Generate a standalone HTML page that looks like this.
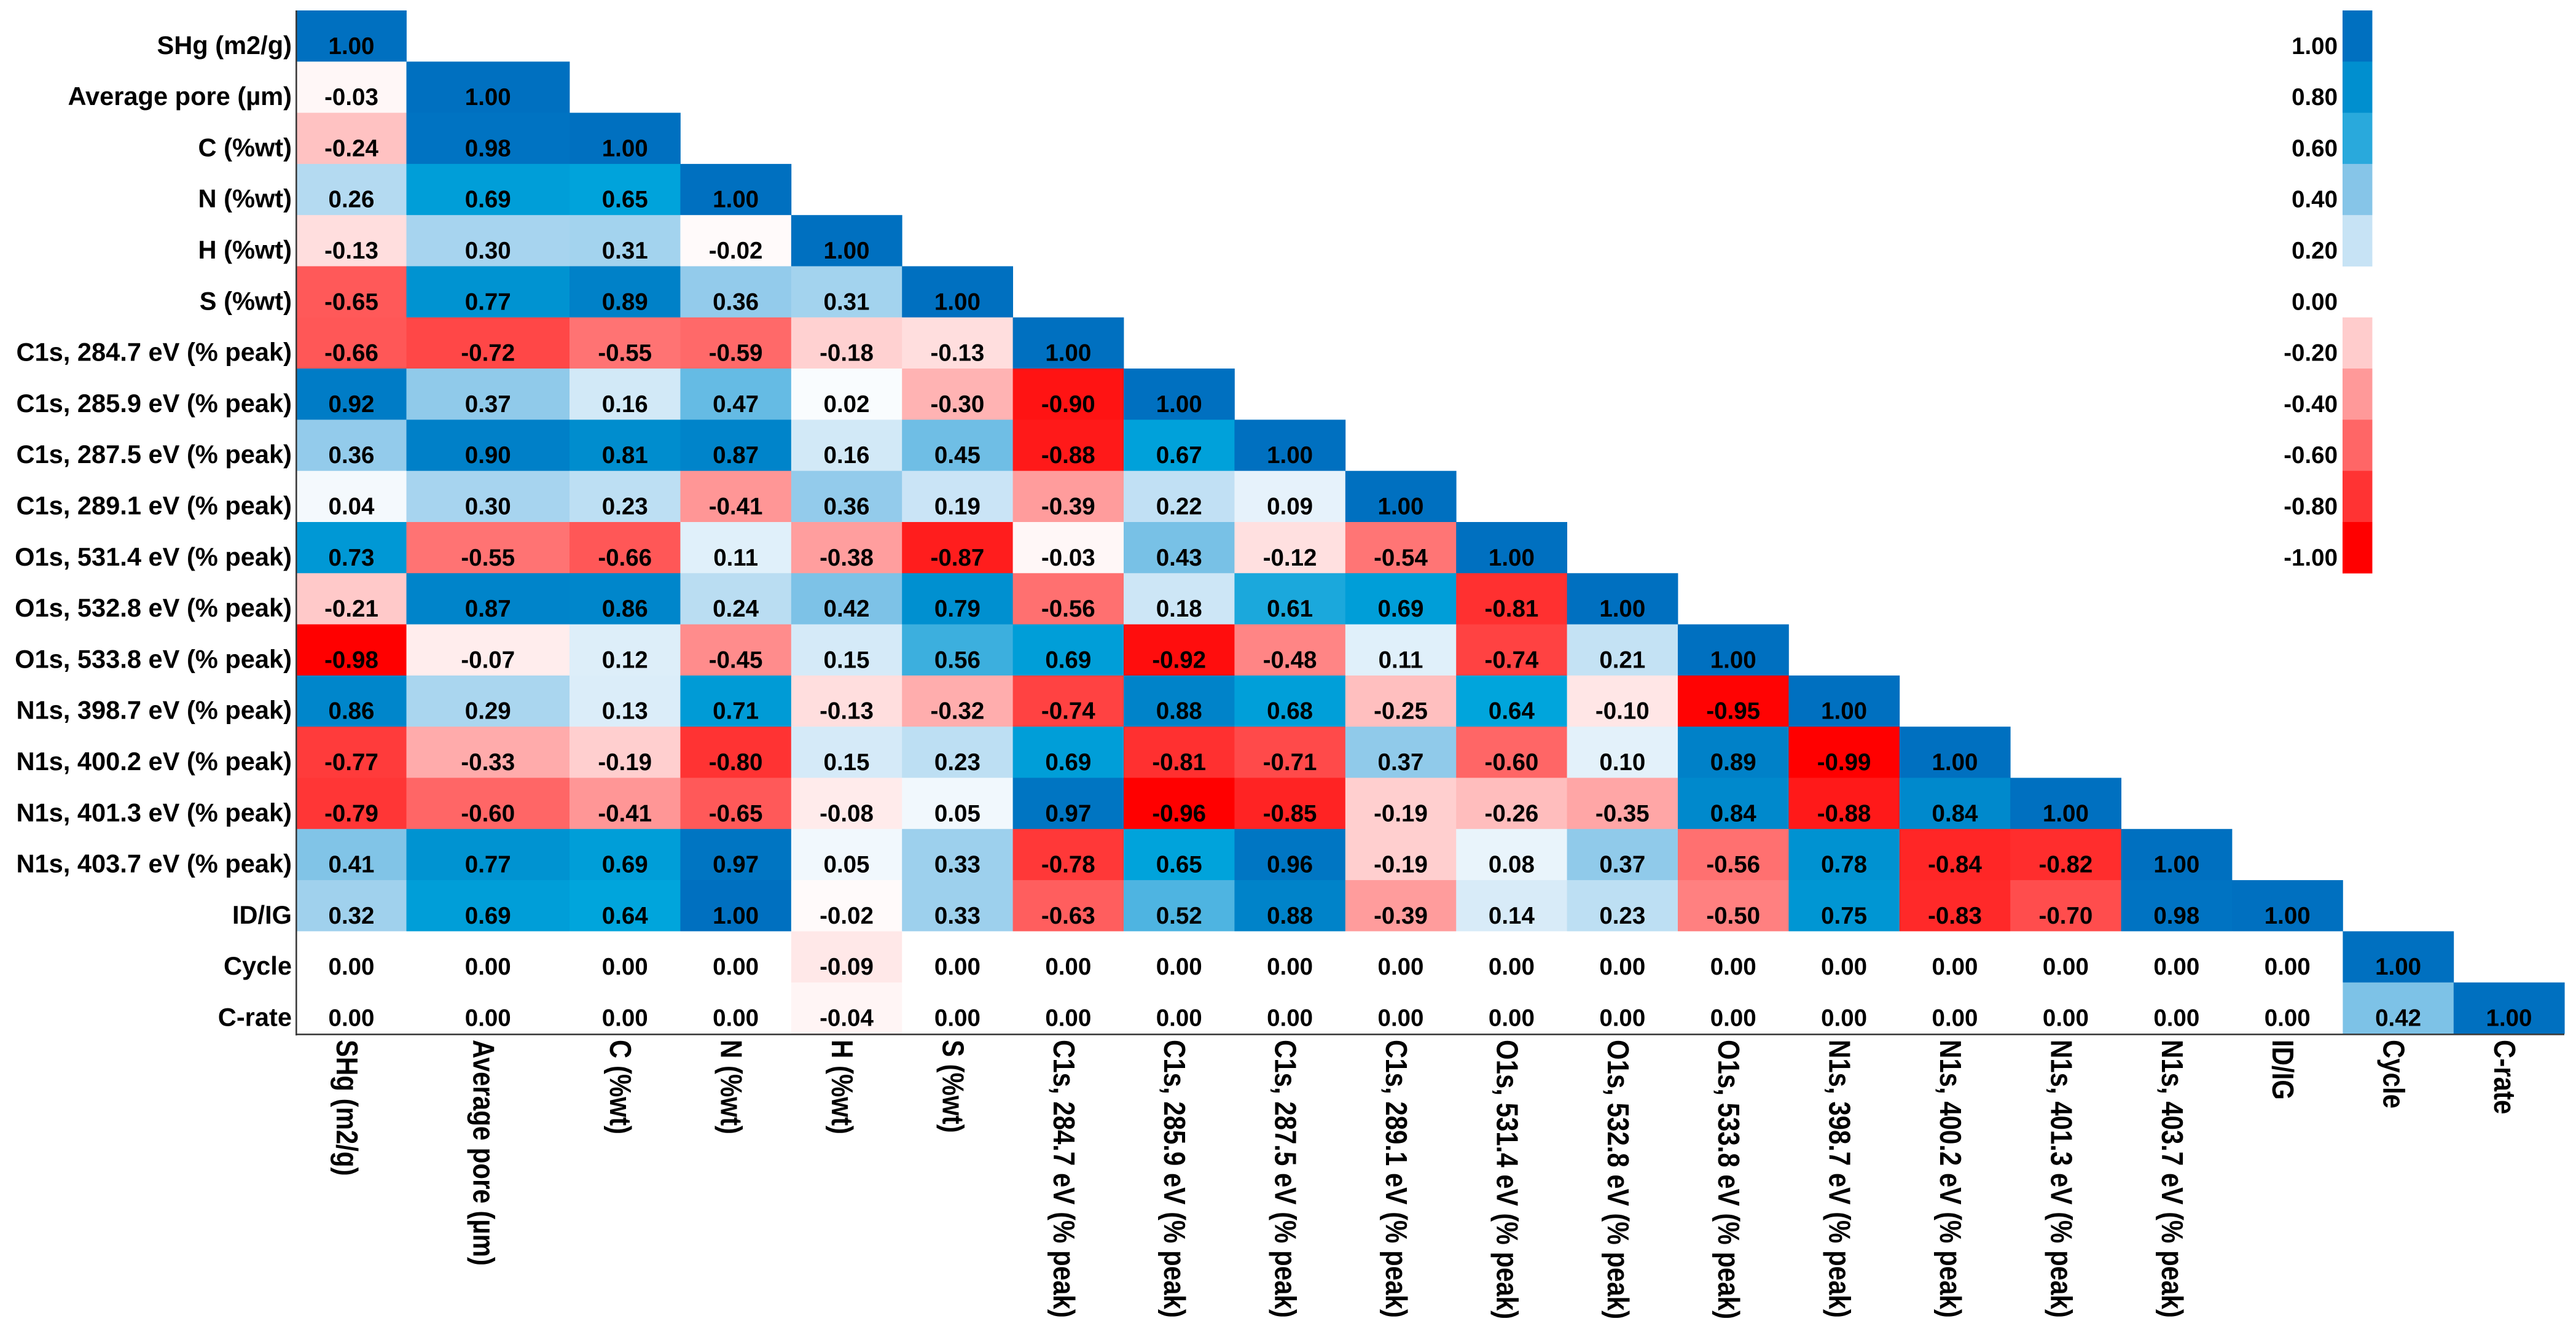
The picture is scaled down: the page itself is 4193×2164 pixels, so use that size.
<!DOCTYPE html>
<html lang="en">
<head>
<meta charset="utf-8">
<title>Correlation matrix</title>
<style>
html,body{margin:0;padding:0;background:#fff;width:4193px;height:2164px;overflow:hidden}
svg{display:block}
text{font-family:"Liberation Sans",Arial,sans-serif;font-weight:700;fill:#000}
</style>
</head>
<body>
<svg id="chart" xmlns="http://www.w3.org/2000/svg" width="4193" height="2164" viewBox="0 0 4193 2164"></svg>
<script>
const categories = ["SHg (m2/g)","Average pore (µm)","C (%wt)","N (%wt)","H (%wt)","S (%wt)","C1s, 284.7 eV (% peak)","C1s, 285.9 eV (% peak)","C1s, 287.5 eV (% peak)","C1s, 289.1 eV (% peak)","O1s, 531.4 eV (% peak)","O1s, 532.8 eV (% peak)","O1s, 533.8 eV (% peak)","N1s, 398.7 eV (% peak)","N1s, 400.2 eV (% peak)","N1s, 401.3 eV (% peak)","N1s, 403.7 eV (% peak)","ID/IG","Cycle","C-rate"];
const rowShg = [1.00];
const rowPore = [-0.03,1.00];
const rowC = [-0.24,0.98,1.00];
const rowN = [0.26,0.69,0.65,1.00];
const rowH = [-0.13,0.30,0.31,-0.02,1.00];
const rowS = [-0.65,0.77,0.89,0.36,0.31,1.00];
const rowC2847 = [-0.66,-0.72,-0.55,-0.59,-0.18,-0.13,1.00];
const rowC2859 = [0.92,0.37,0.16,0.47,0.02,-0.30,-0.90,1.00];
const rowC2875 = [0.36,0.90,0.81,0.87,0.16,0.45,-0.88,0.67,1.00];
const rowC2891 = [0.04,0.30,0.23,-0.41,0.36,0.19,-0.39,0.22,0.09,1.00];
const rowO5314 = [0.73,-0.55,-0.66,0.11,-0.38,-0.87,-0.03,0.43,-0.12,-0.54,1.00];
const rowO5328 = [-0.21,0.87,0.86,0.24,0.42,0.79,-0.56,0.18,0.61,0.69,-0.81,1.00];
const rowO5338 = [-0.98,-0.07,0.12,-0.45,0.15,0.56,0.69,-0.92,-0.48,0.11,-0.74,0.21,1.00];
const rowN3987 = [0.86,0.29,0.13,0.71,-0.13,-0.32,-0.74,0.88,0.68,-0.25,0.64,-0.10,-0.95,1.00];
const rowN4002 = [-0.77,-0.33,-0.19,-0.80,0.15,0.23,0.69,-0.81,-0.71,0.37,-0.60,0.10,0.89,-0.99,1.00];
const rowN4013 = [-0.79,-0.60,-0.41,-0.65,-0.08,0.05,0.97,-0.96,-0.85,-0.19,-0.26,-0.35,0.84,-0.88,0.84,1.00];
const rowN4037 = [0.41,0.77,0.69,0.97,0.05,0.33,-0.78,0.65,0.96,-0.19,0.08,0.37,-0.56,0.78,-0.84,-0.82,1.00];
const rowIdIg = [0.32,0.69,0.64,1.00,-0.02,0.33,-0.63,0.52,0.88,-0.39,0.14,0.23,-0.50,0.75,-0.83,-0.70,0.98,1.00];
const rowCycle = [0,0,0,0,-0.09,0,0,0,0,0,0,0,0,0,0,0,0,0,1.00];
const rowCrate = [0,0,0,0,-0.04,0,0,0,0,0,0,0,0,0,0,0,0,0,0.42,1.00];
const correlationRows = [rowShg,rowPore,rowC,rowN,rowH,rowS,rowC2847,rowC2859,rowC2875,rowC2891,rowO5314,rowO5328,rowO5338,rowN3987,rowN4002,rowN4013,rowN4037,rowIdIg,rowCycle,rowCrate];
const legendTicks = [1.00,0.80,0.60,0.40,0.20,0.00,-0.20,-0.40,-0.60,-0.80,-1.00];

const NS = "http://www.w3.org/2000/svg";
const svg = document.getElementById("chart");
const ROW_TOP = 17, ROW_H = 83.3;
const colLeft = i => i === 0 ? 482.5 : i === 1 ? 661.5 : 927 + (i - 2) * 180.4;
const rowTop = i => ROW_TOP + i * ROW_H;
const baseline = i => rowTop(i + 1) - 12.5;

function blueColor(v){
  const a = [[0,255,255,255],[0.2,199,227,245],[0.4,134,197,232],[0.6,41,169,220],[0.63,0,166,221],[0.8,0,143,207],[1,0,112,192]];
  for(let k = 1; k < a.length; k++){
    if(v <= a[k][0]){
      const t = (v - a[k-1][0]) / (a[k][0] - a[k-1][0]);
      return "rgb(" + [1,2,3].map(c => Math.round(a[k-1][c] + t * (a[k][c] - a[k-1][c]))).join(",") + ")";
    }
  }
  return "rgb(0,112,192)";
}
function colorOf(v){
  if(v < 0){
    const m = -v;
    const g = m <= 0.8 ? Math.round(255 * (1 - m)) : Math.max(0, Math.round(51 * (0.96 - m) / 0.16));
    return "rgb(255," + g + "," + g + ")";
  }
  return blueColor(v);
}
function make(tag, attrs, txt){
  const el = document.createElementNS(NS, tag);
  for(const k in attrs) el.setAttribute(k, attrs[k]);
  if(txt !== undefined) el.textContent = txt;
  svg.appendChild(el);
  return el;
}

correlationRows.forEach((row, r) => {
  row.forEach((v, c) => {
    const rect = make("rect", {x: colLeft(c), y: rowTop(r), width: colLeft(c + 1) - colLeft(c) + 0.4, height: ROW_H + 0.4, fill: colorOf(v)});
    
    
  });
});
correlationRows.forEach((row, r) => {
  row.forEach((v, c) => {
    const t = make("text", {x: (colLeft(c) + colLeft(c + 1)) / 2, y: baseline(r), "text-anchor": "middle", "font-size": 38.5}, v.toFixed(2));
    
    
  });
});

categories.forEach((name, r) => {
  const t = make("text", {x: 475, y: baseline(r), "text-anchor": "end", "font-size": 41.6}, name);
  
  
});
categories.forEach((name, c) => {
  const cx = (colLeft(c) + colLeft(c + 1)) / 2;
  const t = make("text", {transform: "translate(" + (cx - 24) + ",1693) rotate(90) scale(1,1.17)", "text-anchor": "start", "font-size": 42}, name);
  
  
});

const yAxis = make("rect", {x: 481, y: ROW_TOP, width: 2.6, height: 1669, fill: "#3a3a3a"});


const xAxis = make("rect", {x: 481, y: 1683, width: 3693, height: 2.6, fill: "#3a3a3a"});



legendTicks.forEach((v, i) => {
  if(v !== 0){
    const sw = make("rect", {x: 3813, y: rowTop(i), width: 48.5, height: ROW_H + 0.4, fill: colorOf(v)});
    
    
  }
  const lab = make("text", {x: 3805, y: baseline(i), "text-anchor": "end", "font-size": 38.5}, v.toFixed(2));
  
  
});
</script>
</body>
</html>
